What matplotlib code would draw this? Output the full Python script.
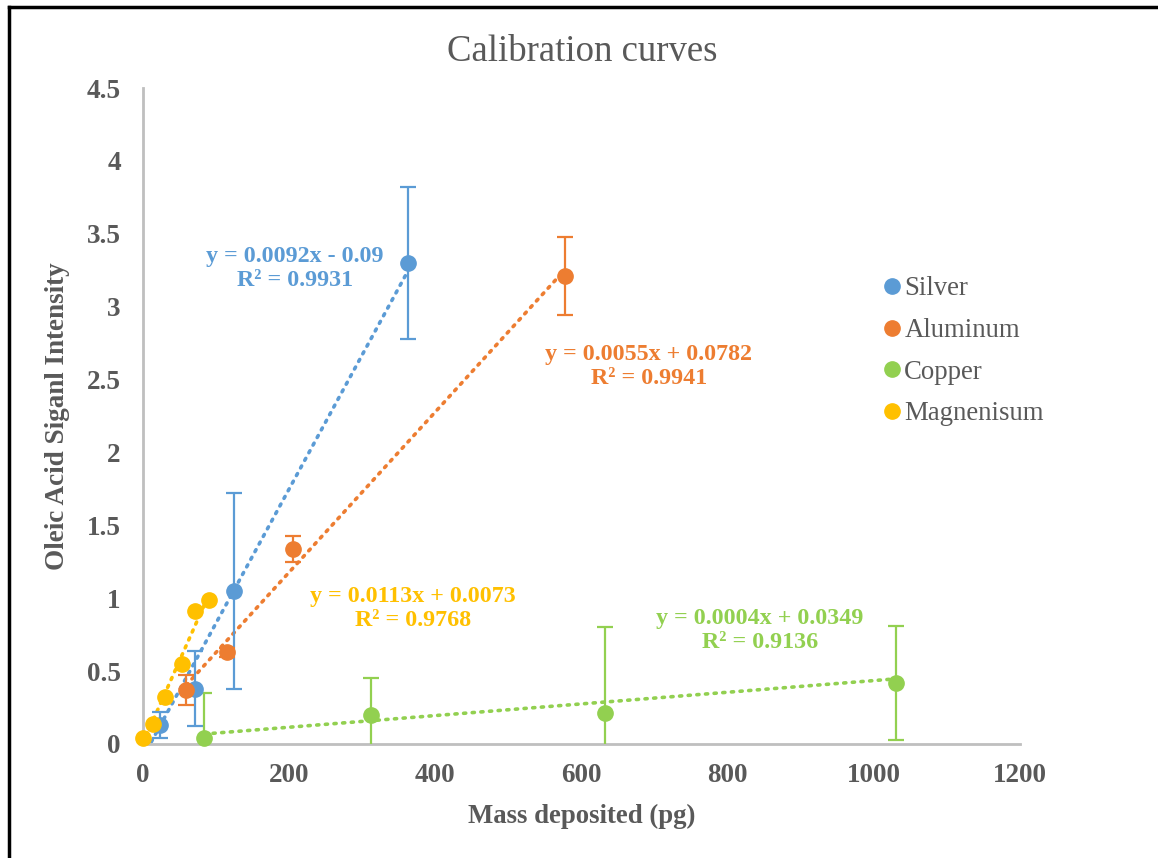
import numpy as np
import matplotlib.pyplot as plt
from matplotlib.lines import Line2D

plt.rcParams['font.family'] = ['Liberation Serif', 'DejaVu Serif']

# ── Data ────────────────────────────────────────────────────
silver_x = [23, 71, 125, 363]
silver_y = [0.13, 0.38, 1.05, 3.30]
silver_err = [0.09, 0.26, 0.67, 0.52]

aluminum_x = [59, 115, 205, 578]
aluminum_y = [0.37, 0.63, 1.34, 3.21]
aluminum_err = [0.10, 0.03, 0.09, 0.27]

copper_x = [84, 312, 632, 1031]
copper_y = [0.04, 0.20, 0.21, 0.42]
copper_err = [0.31, 0.25, 0.59, 0.39]

magnesium_x = [0, 13, 30, 53, 71, 90]
magnesium_y = [0.04, 0.14, 0.32, 0.55, 0.91, 0.99]
magnesium_err = [0, 0, 0, 0, 0, 0]

# trendline coefficients (slope, intercept) and x-span as shown
fits = {
    'Silver':     (0.0092, -0.09,   0,  363),
    'Aluminum':   (0.0055, 0.0782,  59, 578),
    'Copper':     (0.0004, 0.0349,  84, 1031),
    'Magnenisum': (0.0113, 0.0073,  0,  90),
}
fit_labels = {
    'Silver':     ('y = 0.0092x - 0.09\nR² = 0.9931', 208, 3.26),
    'Aluminum':   ('y = 0.0055x + 0.0782\nR² = 0.9941', 692, 2.59),
    'Copper':     ('y = 0.0004x + 0.0349\nR² = 0.9136', 844, 0.78),
    'Magnenisum': ('y = 0.0113x + 0.0073\nR² = 0.9768', 369, 0.93),
}

colors = {'Silver': '#5B9BD5', 'Aluminum': '#ED7D31',
          'Copper': '#92D050', 'Magnenisum': '#FFC000'}
series = [('Silver', silver_x, silver_y, silver_err),
          ('Aluminum', aluminum_x, aluminum_y, aluminum_err),
          ('Copper', copper_x, copper_y, copper_err),
          ('Magnenisum', magnesium_x, magnesium_y, magnesium_err)]

GRAY = '#595959'

fig = plt.figure(figsize=(11.58, 8.58), dpi=100)
ax = fig.add_axes([0.1235, 0.1329, 0.7573, 0.7645])

for name, xs, ys, err in series:
    c = colors[name]
    m, b, x0, x1 = fits[name]
    xl = np.array([x0, x1])
    ax.plot(xl, m * xl + b, color=c, lw=2.6, linestyle=(0, (0.6, 1.8)),
            dash_capstyle='round', zorder=2)
    if any(e > 0 for e in err):
        ax.errorbar(xs, ys, yerr=err, fmt='none', ecolor=c, elinewidth=1.6,
                    capsize=6, capthick=1.6, zorder=3)
    ax.plot(xs, ys, 'o', color=c, ms=11, zorder=4, clip_on=False)
    txt, tx, ty = fit_labels[name]
    ax.text(tx, ty, txt, color=c, fontsize=17.3, fontweight='bold',
            ha='center', va='center', linespacing=1.2)

ax.set_xlim(0, 1200)
ax.set_ylim(0, 4.5)
ax.set_xticks(np.arange(0, 1201, 200))
ax.set_yticks(np.arange(0, 4.51, 0.5))
ax.set_yticklabels(['0', '0.5', '1', '1.5', '2', '2.5', '3', '3.5', '4', '4.5'])
ax.tick_params(length=0, labelsize=19.5, labelcolor=GRAY)
ax.tick_params(axis='y', pad=16)
ax.tick_params(axis='x', pad=14)
for lab in ax.get_xticklabels() + ax.get_yticklabels():
    lab.set_fontweight('bold')

for s in ['top', 'right']:
    ax.spines[s].set_visible(False)
for s in ['left', 'bottom']:
    ax.spines[s].set_color('#BFBFBF')
    ax.spines[s].set_linewidth(2)

ax.set_xlabel('Mass deposited (pg)', fontsize=19.3, fontweight='bold',
              color=GRAY, labelpad=11)
ax.set_ylabel('Oleic Acid Siganl Intensity', fontsize=19.5, fontweight='bold',
              color=GRAY, labelpad=12)
fig.text(0.503, 0.940, 'Calibration curves', fontsize=26.5, color=GRAY,
         ha='center', va='center')

handles = [Line2D([], [], ls='none', marker='o', ms=11, color=colors[n])
           for n, *_ in series]
leg = fig.legend(handles, [n for n, *_ in series], loc='upper left',
                 bbox_to_anchor=(0.745, 0.706), frameon=False, fontsize=19.3,
                 handlelength=0.4, handletextpad=0.25, labelspacing=0.62)
for t in leg.get_texts():
    t.set_color(GRAY)

# outer frame lines (left and top only)
fig.add_artist(Line2D([0.0075, 0.0075], [0, 0.992], color='black', lw=2.5,
                      transform=fig.transFigure))
fig.add_artist(Line2D([0.0075, 1.0], [0.992, 0.992], color='black', lw=2.5,
                      transform=fig.transFigure))

fig.savefig('out.png', dpi=100)
